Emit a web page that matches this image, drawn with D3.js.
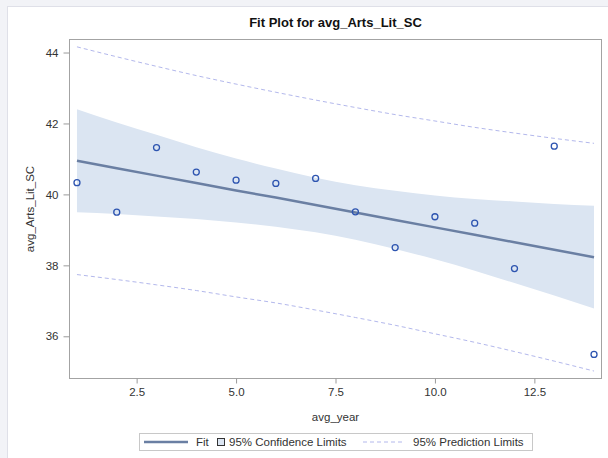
<!DOCTYPE html>
<html><head><meta charset="utf-8">
<script src="https://cdn.jsdelivr.net/npm/d3@7"></script>
<style>
html,body{margin:0;padding:0;background:#fff;}
svg{display:block;font-family:"Liberation Sans",Arial,sans-serif;}
</style></head>
<body>
<svg id="chart" width="608" height="458"></svg>
<script>
// ---- data ----
const years = [1,2,3,4,5,6,7,8,9,10,11,12,13,14];
const observed = [40.33,39.50,41.32,40.63,40.40,40.31,40.45,39.51,38.50,39.37,39.19,37.91,41.36,35.49];
const fitValues = [40.95,40.74,40.53,40.32,40.11,39.91,39.70,39.49,39.28,39.07,38.86,38.65,38.44,38.23];
const confUpper = [42.40,42.03,41.68,41.33,41.01,40.73,40.47,40.26,40.10,39.97,39.87,39.80,39.73,39.68];
const confLower = [39.50,39.45,39.38,39.31,39.21,39.09,38.93,38.72,38.46,38.17,37.85,37.50,37.15,36.78];
const predUpper = [44.16,43.88,43.61,43.35,43.11,42.88,42.66,42.45,42.25,42.07,41.89,41.73,41.58,41.44];
const predLower = [37.74,37.60,37.45,37.29,37.11,36.94,36.74,36.53,36.31,36.07,35.83,35.57,35.30,35.02];
const xTicks = [2.5,5.0,7.5,10.0,12.5];
const yTicks = [36,38,40,42,44];
const titleText = "Fit Plot for avg_Arts_Lit_SC";
const xLabel = "avg_year";
const yLabel = "avg_Arts_Lit_SC";
const legendLabels = ["Fit","95% Confidence Limits","95% Prediction Limits"];

// ---- layout ----
const W = 608, H = 458;
const L = 69.5, R = 601.5, T = 39.5, B = 378.5;
const svg = d3.select("#chart");

// outer frame like the screenshot
svg.append("rect").attr("x",0).attr("y",0).attr("width",W).attr("height",H).attr("fill","#f2f3f7");
svg.append("rect").attr("x",7.5).attr("y",6.5).attr("width",W).attr("height",H).attr("fill","#fff").attr("stroke","#dfe0e8");

const x = d3.scaleLinear().domain([0.812,14.188]).range([L,R]);
const y = d3.scaleLinear().domain([34.81,44.367]).range([B,T]);

const rows = years.map((yr,i)=>({x:yr,y:observed[i],fit:fitValues[i],cu:confUpper[i],cl:confLower[i],pu:predUpper[i],pl:predLower[i]}));

// confidence band
svg.append("path").datum(rows)
  .attr("d", d3.area().x(d=>x(d.x)).y0(d=>y(d.cl)).y1(d=>y(d.cu)).curve(d3.curveMonotoneX))
  .attr("fill","#dbe5f2");

// prediction limits
["pu","pl"].forEach(k=>{
  svg.append("path").datum(rows)
    .attr("d", d3.line().x(d=>x(d.x)).y(d=>y(d[k])).curve(d3.curveMonotoneX))
    .attr("fill","none").attr("stroke","#b3b8ec").attr("stroke-width",1)
    .attr("stroke-dasharray","4,3");
});

// fit line
svg.append("path").datum(rows)
  .attr("d", d3.line().x(d=>x(d.x)).y(d=>y(d.fit)))
  .attr("fill","none").attr("stroke","#6a7fa3").attr("stroke-width",2.5);

// observations
svg.append("g").selectAll("circle").data(rows).join("circle")
  .attr("cx",d=>x(d.x)).attr("cy",d=>y(d.y)).attr("r",3)
  .attr("fill","none").attr("stroke","#2d54b0").attr("stroke-width",1.3);

// frame
svg.append("rect").attr("x",L).attr("y",T).attr("width",R-L).attr("height",B-T)
  .attr("fill","none").attr("stroke","#a3a3a3").attr("stroke-width",1);

// axes
const xAxis = svg.append("g").attr("transform",`translate(0,${B})`)
  .call(d3.axisBottom(x).tickValues(xTicks).tickFormat(d3.format(".1f")).tickSizeOuter(0).tickSize(5).tickPadding(4));
const yAxis = svg.append("g").attr("transform",`translate(${L},0)`)
  .call(d3.axisLeft(y).tickValues(yTicks).tickFormat(d3.format("d")).tickSizeOuter(0).tickSize(6).tickPadding(5));
[xAxis,yAxis].forEach(a=>{
  a.select(".domain").remove();
  a.selectAll(".tick line").attr("stroke","#9a9a9a");
  a.selectAll(".tick text").attr("fill","#333").style("font-size","11.5px")
    .style("font-family","'Liberation Sans',Arial,sans-serif");
});

// title and labels
svg.append("text").attr("x",(L+R)/2).attr("y",27).attr("text-anchor","middle")
  .style("font-size","13px").style("font-weight","bold").attr("fill","#111").text(titleText);
svg.append("text").attr("x",(L+R)/2).attr("y",421).attr("text-anchor","middle")
  .style("font-size","11.5px").attr("fill","#333").text(xLabel);
svg.append("text").attr("transform",`translate(34,${(T+B)/2}) rotate(-90)`).attr("text-anchor","middle")
  .style("font-size","11.5px").attr("fill","#333").text(yLabel);

// legend
const lg = svg.append("g");
lg.append("rect").attr("x",139.5).attr("y",433.5).attr("width",393).attr("height",17)
  .attr("fill","#fff").attr("stroke","#c8c8c8");
const ly = 442;
lg.append("line").attr("x1",144).attr("x2",188).attr("y1",ly).attr("y2",ly)
  .attr("stroke","#6a7fa3").attr("stroke-width",2.5);
lg.append("text").attr("x",196).attr("y",ly+4).style("font-size","11.5px").attr("fill","#333").text(legendLabels[0]);
lg.append("rect").attr("x",217.5).attr("y",438.5).attr("width",7).attr("height",7)
  .attr("fill","#dbe5f2").attr("stroke","#333").attr("stroke-width",1);
lg.append("text").attr("x",229).attr("y",ly+4).style("font-size","11.5px").attr("fill","#333").text(legendLabels[1]);
lg.append("line").attr("x1",363).attr("x2",405).attr("y1",ly).attr("y2",ly)
  .attr("stroke","#b3b8ec").attr("stroke-width",1).attr("stroke-dasharray","4,3");
lg.append("text").attr("x",413).attr("y",ly+4).style("font-size","11.5px").attr("fill","#333").text(legendLabels[2]);
</script>
</body></html>
